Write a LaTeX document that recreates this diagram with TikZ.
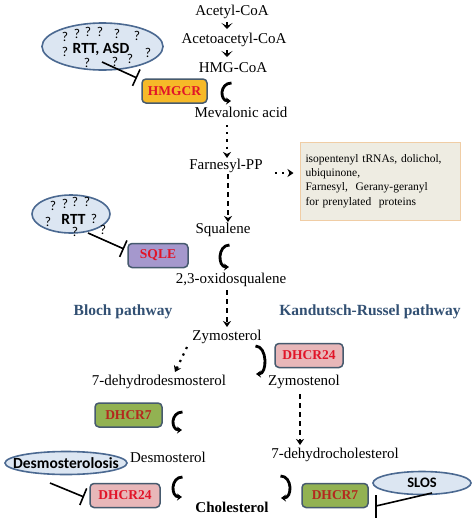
\documentclass[tikz,border=0pt]{standalone}
\usepackage{fontspec}
\setmainfont{Liberation Serif}
\newfontfamily\calib{Carlito}
\usetikzlibrary{arrows.meta,calc,shapes.geometric}
\definecolor{ellfill}{RGB}{220,230,242}
\definecolor{ellborder}{RGB}{75,105,145}
\definecolor{enzborder}{RGB}{70,90,110}
\definecolor{hmgfill}{RGB}{246,185,40}
\definecolor{sqlefill}{RGB}{165,152,205}
\definecolor{dhtwfill}{RGB}{232,183,185}
\definecolor{dhsvfill}{RGB}{146,178,82}
\definecolor{enzred}{RGB}{225,20,40}
\definecolor{dhsvtext}{RGB}{180,40,30}
\definecolor{pathcol}{RGB}{50,80,115}
\definecolor{infofill}{RGB}{238,236,226}
\definecolor{infoborder}{RGB}{240,205,165}
\tikzset{
  chem/.style={font=\fontsize{15}{18}\selectfont, inner sep=1pt},
  chembold/.style={font=\bfseries\fontsize{15}{18}\selectfont, inner sep=1pt},
  pathlbl/.style={font=\bfseries\fontsize{15.5}{18}\selectfont, text=pathcol, inner sep=1pt},
  enz/.style={draw=enzborder, line width=1.5pt, rounded corners=4pt,
    font=\bfseries\fontsize{13.5}{16}\selectfont, inner sep=0pt, minimum height=24pt},
  dis/.style={ellipse, draw=ellborder, fill=ellfill, line width=1.6pt, inner sep=0pt},
  distext/.style={font=\calib\bfseries\fontsize{15.5}{18}\selectfont, inner sep=0pt},
  qm/.style={font=\calib\fontsize{13.5}{16}\selectfont, inner sep=0pt},
  inh/.style={line width=1.6pt, -{Bar[width=18pt,line width=1.6pt]}},
  dotarr/.style={line width=2.2pt, dash pattern=on 2.2pt off 5pt, -{Stealth[length=6pt,width=8pt]}},
  dasharr/.style={line width=2.2pt, dash pattern=on 5pt off 4pt, -{Stealth[length=6pt,width=8pt]}},
  chev/.style={line width=1.5pt, -{Stealth[length=6pt,width=11pt,inset=3pt]}},
  curv/.style={line width=2.8pt, -{Stealth[length=5pt,width=7pt]}},
  pics/cleft/.style={code={\draw[curv] (4.5,-#1) .. controls (-7.5,-#1) and (-7.5,#1) .. (4,#1);}},
  pics/cright/.style={code={\draw[curv] (-4.5,-#1) .. controls (7.5,-#1) and (7.5,#1) .. (-4,#1);}},
  infobox/.style={draw=infoborder, fill=infofill, line width=1pt, minimum height=78pt,
    text width=149pt, inner xsep=5.5pt, align=left, font=\fontsize{11.5}{14.3}\selectfont}
}
\begin{document}
\begin{tikzpicture}[x=1pt,y=-1pt]
\useasboundingbox[fill=white] (0,0) rectangle (474,523);

% main chain
\node[chem] (acetyl) at (232,12) {Acetyl-CoA};
\node[chem] (acetoac) at (234,40) {Acetoacetyl-CoA};
\node[chem] (hmgcoa) at (233,68) {HMG-CoA};
\node[chem] (meval) at (241,112) {Mevalonic acid};
\node[chem] (farn) at (226,166) {Farnesyl-PP};
\node[chem] (squal) at (223,230) {Squalene};
\node[chem] (oxido) at (231,280) {2,3-oxidosqualene};
\node[chem] (zymos) at (227,337) {Zymosterol};
\node[chem] (dhd) at (159,382) {7-dehydrodesmosterol};
\node[chem] (zymen) at (304,382) {Zymostenol};
\node[chem] (dhc) at (335,455) {7-dehydrocholesterol};
\node[chem] (desmo) at (168,457) {Desmosterol};
\node[chembold] (chol) at (232,507) {Cholesterol};

\node[pathlbl] (bloch) at (123,312) {Bloch pathway};
\node[pathlbl] (kand) at (370,312) {Kandutsch-Russel pathway};

% info box
\node[infobox] (info) at (380,181) {isopentenyl tRNAs, dolichol,\\ ubiquinone,\\ Farnesyl,\ \ Gerany-geranyl\\ for prenylated\ \ proteins};

% enzymes
\node[enz, fill=hmgfill, text=enzred, minimum width=65pt] (hmgcr) at (174.5,91) {HMGCR};
\node[enz, fill=sqlefill, text=enzred, minimum width=60pt] (sqle) at (158,255.5) {SQLE};
\node[enz, fill=dhtwfill, text=enzred, minimum width=68pt] (dhtwa) at (309,355.5) {DHCR24};
\node[enz, fill=dhsvfill, text=dhsvtext, minimum width=67pt] (dhsva) at (128.5,415) {DHCR7};
\node[enz, fill=dhtwfill, text=enzred, minimum width=70pt] (dhtwb) at (125,495.5) {DHCR24};
\node[enz, fill=dhsvfill, text=dhsvtext, minimum width=66pt] (dhsvb) at (335,495.5) {DHCR7};

% disease ellipses
\node[dis, minimum width=121pt, minimum height=47pt] (rttasd) at (102.5,46.5) {};
\node[distext] (rttasdt) at (101,49.5) {RTT, ASD};
\foreach \px/\py [count=\i] in {65/37,77/34,88/32,100/32,117/34,137/36,65/52,87/63,115/62,130/59,148/53}
  \node[qm] (qa\i) at (\px,\py) {?};

\node[dis, minimum width=78pt, minimum height=38pt] (rtt) at (71,214) {};
\node[distext] (rttt) at (73.5,219.5) {RTT};
\foreach \px/\py [count=\i] in {53/206,65/204,75/202,87/202,48/222,94/219,75/232,103/230}
  \node[qm] (qb\i) at (\px,\py) {?};

\node[dis, minimum width=122pt, minimum height=23pt] (desmosis) at (66,463) {};
\node[distext] (desmosist) at (66,463) {Desmosterolosis};

\node[dis, minimum width=98pt, minimum height=23pt] (slos) at (422,483) {};
\node[distext, font=\calib\bfseries\fontsize{14.5}{17}\selectfont] (slost) at (422,483) {SLOS};

% inhibition lines
\coordinate (iaS) at (102,62);
\coordinate (iaE) at (137,78);
\draw[inh] (iaS) -- (iaE);
\coordinate (ibS) at (88,233);
\coordinate (ibE) at (124,249);
\draw[inh] (ibS) -- (ibE);
\coordinate (icS) at (50,483);
\coordinate (icE) at (84,497);
\draw[inh] (icS) -- (icE);
\coordinate (idS) at (432,493);
\coordinate (idE) at (376,506);
\draw[line width=1.6pt] (idS) -- (idE);
\draw[line width=1.6pt] ($(idE)+(0,-11)$) -- ($(idE)+(0,12)$);

% chevrons
\draw[chev] (227,22) -- (227,29);
\draw[chev] (227,50) -- (227,57);

% pathway arrows
\draw[dotarr] (227,125) -- (227,158);
\draw[dasharr] (228,174) -- (228,222);
\draw[dotarr] ($(farn.east)+(11,7)$) -- ($(info.west)+(-6,-8)$);
\draw[dasharr] (227,290) -- (227,327);
\draw[dotarr] (187,347) -- (175,372);
\draw[dasharr] (300,394) -- (300,445);

% curved reaction arrows
\pic at (227,92) {cleft=9};
\pic at (225,256) {cleft=11};
\pic at (260,360) {cright=14};
\pic at (178,421) {cleft=9};
\pic at (178,487) {cleft=10};
\pic at (285,487) {cright=11};
\end{tikzpicture}
\end{document}
